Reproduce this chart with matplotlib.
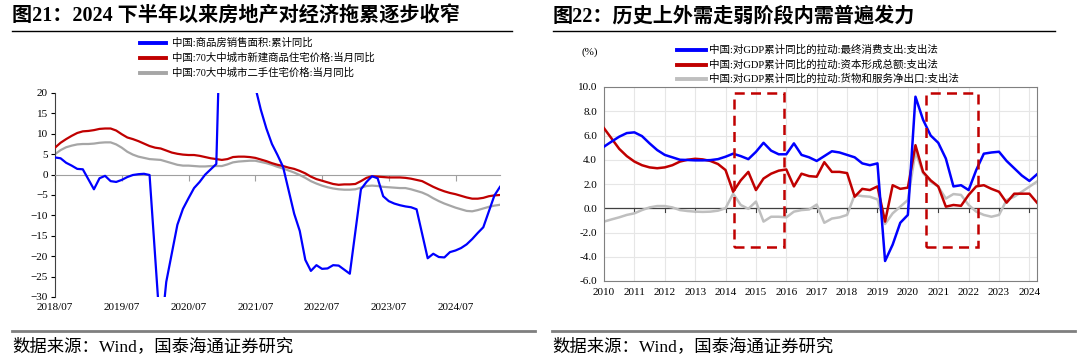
import matplotlib.pyplot as plt
from matplotlib.lines import Line2D
from matplotlib.patches import Rectangle
import numpy as np
import pandas as pd

plt.rcParams['font.family'] = ['Liberation Serif', 'Noto Sans CJK SC']

# ---------------- left chart: monthly, 2018/07 - 2025/03 ----------------
months = pd.period_range('2018-07', '2025-03', freq='M')
nan = np.nan
sales_area = [4.2, 4.0, 2.9, 2.2, 1.4, 1.3,
              nan, -3.6, -0.9, -0.3, -1.6, -1.8, -1.3, -0.6, -0.1, 0.1, 0.2, -0.1,
              nan, -39.9, -26.3, -19.3, -12.3, -8.4, -5.8, -3.3, -1.8, 0.0, 1.3, 2.6,
              nan, 104.9, 63.8, 48.1, 36.3, 27.7, 21.5, 15.9, 11.3, 7.5, 4.8, 1.9,
              nan, -9.6, -13.8, -20.9, -23.6, -22.2, -23.1, -23.0, -22.2, -22.3, -23.3, -24.3,
              nan, -3.6, -1.8, -0.4, -0.9, -5.3, -6.5, -7.1, -7.5, -7.8, -8.0, -8.5,
              nan, -20.5, -19.4, -20.2, -20.3, -19.0, -18.6, -18.0, -17.1, -15.8, -14.3, -12.9,
              nan, -5.1, -3.0]
new_home = [6.6, 7.8, 8.7, 9.5, 10.2, 10.6,
            10.7, 10.9, 11.2, 11.3, 11.3, 10.8, 9.9, 9.1, 8.7, 8.2, 7.6, 7.0,
            6.6, 6.4, 5.9, 5.4, 5.1, 4.9, 4.8, 4.8, 4.6, 4.3, 4.0, 3.8,
            3.6, 3.8, 4.3, 4.4, 4.4, 4.3, 4.1, 3.7, 3.3, 2.8, 2.4, 2.1,
            1.7, 1.4, 0.9, 0.3, -0.5, -1.1, -1.5, -1.9, -2.3, -2.5, -2.4, -2.4,
            -2.3, -1.6, -0.8, -0.4, -0.5, -0.6, -0.7, -0.7, -0.7, -0.8, -1.0, -1.3,
            -1.6, -2.3, -3.0, -3.6, -4.1, -4.5, -4.8, -5.2, -5.6, -5.9, -5.9, -5.7,
            -5.3, -5.1, -5.0]
second_hand = [5.0, 6.0, 6.7, 7.1, 7.4, 7.5,
               7.5, 7.6, 7.8, 7.9, 7.9, 7.4, 6.6, 5.6, 4.9, 4.4, 4.1, 3.8,
               3.7, 3.6, 3.2, 2.8, 2.4, 2.2, 2.2, 2.1, 2.0, 2.0, 2.1, 2.1,
               2.1, 2.5, 3.0, 3.2, 3.3, 3.4, 3.4, 3.1, 2.8, 2.4, 1.9, 1.5,
               1.0, 0.5, -0.1, -0.8, -1.6, -2.2, -2.7, -3.1, -3.4, -3.6, -3.7, -3.7,
               -3.6, -3.2, -2.8, -2.7, -2.8, -3.0, -3.1, -3.2, -3.3, -3.3, -3.6, -4.0,
               -4.4, -5.0, -5.8, -6.5, -7.1, -7.6, -8.1, -8.5, -8.9, -9.0, -8.7, -8.3,
               -7.9, -7.6, -7.4]
left_names = ['中国:商品房销售面积:累计同比',
              '中国:70大中城市新建商品住宅价格:当月同比',
              '中国:70大中城市二手住宅价格:当月同比']

# ---------------- right chart: quarterly, 2010Q4 - 2025Q1 ----------------
quarters = pd.period_range('2010Q4', '2025Q1', freq='Q')
consumption = [5.08, 5.5, 5.9, 6.2, 6.26, 5.95, 5.35, 4.8, 4.4, 4.2, 4.0, 3.98,
               3.95, 3.95, 3.97, 4.05, 4.25, 4.5, 4.3, 4.05, 4.65, 5.4, 4.75, 4.45,
               4.45, 5.35, 4.4, 4.2, 3.9, 4.3, 4.7, 4.6, 4.4, 4.2, 3.7, 3.55,
               3.7, -4.35, -3.0, -1.2, -0.55, 9.2, 7.3, 6.0, 5.4, 4.1, 1.8, 1.9,
               1.5, 3.15, 4.5, 4.6, 4.66, 3.9, 3.3, 2.7, 2.25, 2.8]
capital = [6.6, 5.75, 4.9, 4.3, 3.85, 3.55, 3.37, 3.3, 3.37, 3.55, 3.85, 4.0,
           4.08, 4.03, 3.9, 3.65, 3.15, 1.36, 2.3, 3.0, 1.5, 2.45, 2.85, 3.1,
           3.2, 1.8, 2.85, 2.65, 2.6, 3.8, 3.0, 3.0, 2.9, 0.95, 1.6, 1.5,
           1.8, -1.1, 1.9, 1.6, 1.7, 5.2, 3.0, 2.3, 1.8, 0.13, 0.27, 0.2,
           1.1, 1.8, 1.9, 1.6, 1.36, 0.46, 1.2, 1.2, 1.2, 0.46]
net_exports = [-1.1, -0.92, -0.75, -0.55, -0.42, -0.15, 0.07, 0.18, 0.18, 0.07, -0.15, -0.23,
               -0.28, -0.3, -0.28, -0.2, 0.0, 1.2, 0.27, -0.05, 0.55, -1.1, -0.7, -0.7,
               -0.75, -0.28, -0.15, -0.1, 0.3, -1.2, -0.85, -0.75, -0.55, 1.1, 1.0, 0.95,
               0.73, -1.3, -0.42, 0.13, 0.68, 4.66, 2.9, 2.2, 1.78, 0.8, 1.17, 1.1,
               0.27, -0.28, -0.55, -0.7, -0.55, 0.68, 0.95, 1.36, 1.78, 2.2]
right_names = ['中国:对GDP累计同比的拉动:最终消费支出:支出法',
               '中国:对GDP累计同比的拉动:资本形成总额:支出法',
               '中国:对GDP累计同比的拉动:货物和服务净出口:支出法']
year_labels = [str(y) for y in range(2010, 2025)]

W, H = 1080, 362


def fx(px):
    return px / W


def fy(py):
    return 1 - py / H


fig = plt.figure(figsize=(10.8, 3.62), dpi=100)

# ---------------- titles, rules, source ----------------
fig.text(fx(12), fy(17), '图21：2024 下半年以来房地产对经济拖累逐步收窄',
         fontsize=14.5, fontweight='bold', va='center', ha='left')
fig.text(fx(553), fy(17), '图22：历史上外需走弱阶段内需普遍发力',
         fontsize=14.5, fontweight='bold', va='center', ha='left')
for x0, x1 in [(12, 512), (553, 1055)]:
    fig.add_artist(Line2D([fx(x0), fx(x1)], [fy(31), fy(31)], color='black', lw=1))
for x0, x1 in [(12, 535), (552, 1075)]:
    fig.add_artist(Line2D([fx(x0), fx(x1)], [fy(331), fy(331)], color='#7F7F7F', lw=2))
    fig.text(fx(x0), fy(347), '数据来源：Wind，国泰海通证券研究',
             fontsize=12.5, va='center', ha='left')

# ---------------- left chart ----------------
colors_left = ['#0000FF', '#C00000', '#A6A6A6']
ax1 = fig.add_axes([fx(55), fy(297), fx(500) - fx(55), fy(93) - fy(297)])
x = np.arange(len(months))
blue = np.array(sales_area)
ok = ~np.isnan(blue)
ax1.plot(x[ok], blue[ok], color=colors_left[0], lw=1.6, zorder=4)
ax1.plot(x, new_home, color=colors_left[1], lw=1.6, zorder=3)
ax1.plot(x, second_hand, color=colors_left[2], lw=1.6, zorder=2)
ax1.set_xlim(0, len(months) - 1)
ax1.set_ylim(-30, 20)
ax1.set_yticks(range(-30, 21, 5))
ax1.tick_params(axis='y', labelsize=8, length=3, direction='out', pad=2)
for s in ['top', 'right']:
    ax1.spines[s].set_visible(False)
ax1.spines['left'].set_color('#404040')
ax1.spines['bottom'].set_position(('data', 0))
ax1.spines['bottom'].set_color('#A0A0A0')
tick_pos = [i for i, m in enumerate(months) if m.month == 7]
ax1.set_xticks(tick_pos)
ax1.tick_params(axis='x', length=4, color='#A0A0A0', labelbottom=False)
for i in tick_pos:
    ax1.text(i, -0.03, months[i].strftime('%Y/%m'), transform=ax1.get_xaxis_transform(),
             ha='center', va='top', fontsize=8)

for k, (name, c) in enumerate(zip(left_names, colors_left)):
    yy = 43 + 15 * k
    fig.add_artist(Line2D([fx(140), fx(166)], [fy(yy), fy(yy)], color=c, lw=2.8))
    fig.text(fx(172), fy(yy), name, fontsize=7.5, va='center', ha='left')

# ---------------- right chart ----------------
colors_right = ['#0000FF', '#C00000', '#BFBFBF']
ax2 = fig.add_axes([fx(604), fy(281), fx(1037) - fx(604), fy(87) - fy(281)])
q = np.arange(len(quarters))
ax2.plot(q, consumption, color=colors_right[0], lw=1.8, zorder=4)
ax2.plot(q, capital, color=colors_right[1], lw=1.8, zorder=3)
ax2.plot(q, net_exports, color=colors_right[2], lw=1.8, zorder=2)
ax2.set_xlim(0, len(quarters) - 1)
ax2.set_ylim(-6, 10)
ax2.set_yticks(np.arange(-6, 10.1, 2))
ax2.set_yticklabels([f'{v:.1f}' for v in np.arange(-6, 10.1, 2)])
year_pos = list(range(0, len(quarters), 4))
ax2.set_xticks(year_pos)
ax2.set_xticklabels(year_labels)
ax2.tick_params(axis='both', labelsize=8, length=0, pad=5)
ax2.grid(True, color='#E6E6E6', lw=0.8)
ax2.set_axisbelow(True)
for s in ax2.spines.values():
    s.set_color('#808080')
ax2.axhline(0, color='#404040', lw=0.9, zorder=1)
for p in year_pos[1:]:
    ax2.plot([p, p], [0, -0.3], color='#404040', lw=0.8, zorder=1)

# highlighted periods
for x0, x1 in [(17.1, 23.7), (42.4, 49.2)]:
    ax2.add_patch(Rectangle((x0, -3.2), x1 - x0, 12.7, fill=False, ec='#C00000',
                            lw=1.8, ls=(0, (4, 2.5)), zorder=5))

fig.text(fx(590), fy(52), '(%)', fontsize=8, va='center', ha='center')
for k, (name, c) in enumerate(zip(right_names, colors_right)):
    yy = 50 + 14.5 * k
    fig.add_artist(Line2D([fx(677), fx(706)], [fy(yy), fy(yy)], color=c, lw=2.8))
    fig.text(fx(709), fy(yy), name, fontsize=7.6, va='center', ha='left')

fig.savefig('out.png', dpi=100)
